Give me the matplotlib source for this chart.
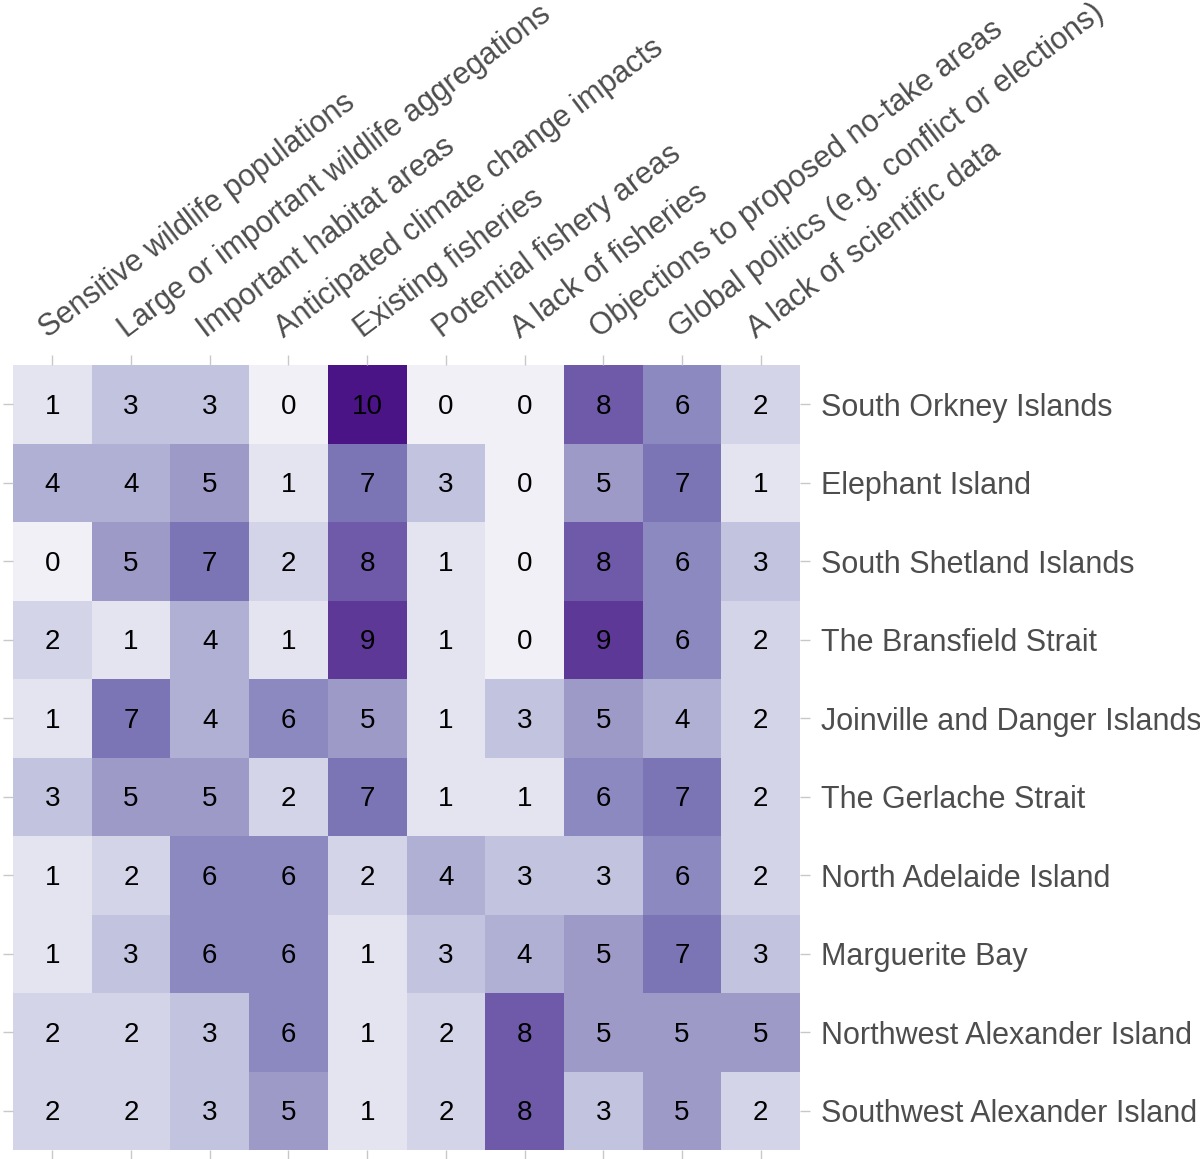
import numpy as np
import matplotlib.pyplot as plt
from matplotlib.colors import LinearSegmentedColormap

plt.rcParams['font.family'] = ['Liberation Sans', 'DejaVu Sans']

columns = ['Sensitive wildlife populations',
           'Large or important wildlife aggregations',
           'Important habitat areas',
           'Anticipated climate change impacts',
           'Existing fisheries',
           'Potential fishery areas',
           'A lack of fisheries',
           'Objections to proposed no-take areas',
           'Global politics (e.g. conflict or elections)',
           'A lack of scientific data']

regions = ['South Orkney Islands',
           'Elephant Island',
           'South Shetland Islands',
           'The Bransfield Strait',
           'Joinville and Danger Islands',
           'The Gerlache Strait',
           'North Adelaide Island',
           'Marguerite Bay',
           'Northwest Alexander Island',
           'Southwest Alexander Island']

south_orkney = [1, 3, 3, 0, 10, 0, 0, 8, 6, 2]
elephant = [4, 4, 5, 1, 7, 3, 0, 5, 7, 1]
south_shetland = [0, 5, 7, 2, 8, 1, 0, 8, 6, 3]
bransfield = [2, 1, 4, 1, 9, 1, 0, 9, 6, 2]
joinville = [1, 7, 4, 6, 5, 1, 3, 5, 4, 2]
gerlache = [3, 5, 5, 2, 7, 1, 1, 6, 7, 2]
north_adelaide = [1, 2, 6, 6, 2, 4, 3, 3, 6, 2]
marguerite = [1, 3, 6, 6, 1, 3, 4, 5, 7, 3]
nw_alexander = [2, 2, 3, 6, 1, 2, 8, 5, 5, 5]
sw_alexander = [2, 2, 3, 5, 1, 2, 8, 3, 5, 2]

counts = np.array([south_orkney, elephant, south_shetland, bransfield, joinville,
                   gerlache, north_adelaide, marguerite, nw_alexander, sw_alexander])

# brewer Purples (7 class), like ggplot distiller
purples = LinearSegmentedColormap.from_list(
    'purp', ['#f2f0f7', '#dadaeb', '#bcbddc', '#9e9ac8', '#807dba', '#6a51a3', '#4a1486'])

fig = plt.figure(figsize=(12, 11.59), dpi=100)
ax = fig.add_axes([13 / 1200, 1 - 1150 / 1159, 787 / 1200, 785 / 1159])

ax.pcolormesh(np.arange(11) - 0.5, np.arange(11) - 0.5, counts, cmap=purples, vmin=0, vmax=10)
ax.set_xlim(-0.5, 9.5)
ax.set_ylim(9.5, -0.5)

for i in range(counts.shape[0]):
    for j in range(counts.shape[1]):
        ax.text(j, i + 0.03, str(counts[i, j]), ha='center', va='center', fontsize=20, color='black')

ax.set_xticks(range(10))
ax.set_yticks(range(10))
ax.tick_params(top=True, bottom=True, left=True, right=True,
               labeltop=True, labelbottom=False, labelleft=False, labelright=True,
               length=7, width=1, color='#c8c8c8', labelcolor='#4d4d4d', labelsize=22, pad=8)
ax.set_xticklabels(columns, rotation=37, ha='left', rotation_mode='anchor')
ax.set_yticklabels(regions)
for s in ax.spines.values():
    s.set_visible(False)

fig.savefig('out.png', dpi=100)
